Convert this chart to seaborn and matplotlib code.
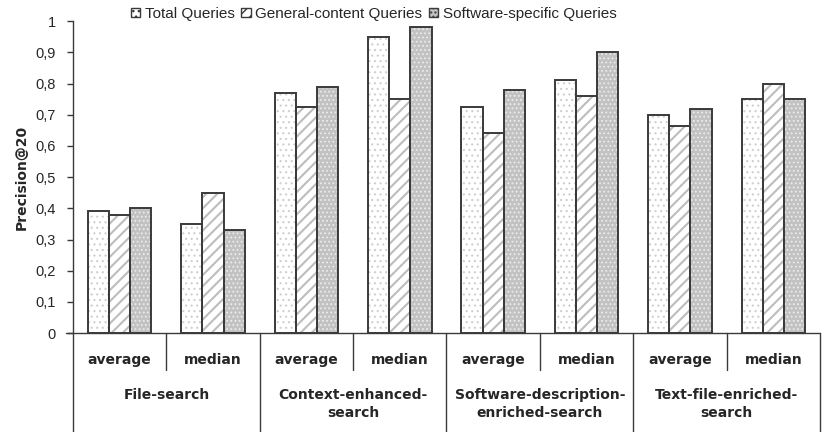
import numpy as np
import pandas as pd
import matplotlib
matplotlib.use("Agg")
import matplotlib.pyplot as plt
from matplotlib.patches import Rectangle, Patch
import seaborn as sns

# --- data ---
groups = ["File-search", "Context-enhanced-\nsearch",
          "Software-description-\nenriched-search", "Text-file-enriched-\nsearch"]
stats = ["average", "median"]
series = ["Total Queries", "General-content Queries", "Software-specific Queries"]
total = [0.39, 0.35, 0.77, 0.95, 0.725, 0.81, 0.70, 0.75]
general = [0.38, 0.45, 0.725, 0.75, 0.64, 0.76, 0.665, 0.80]
software = [0.40, 0.33, 0.79, 0.98, 0.78, 0.90, 0.72, 0.75]
yticks = [0, 0.1, 0.2, 0.3, 0.4, 0.5, 0.6, 0.7, 0.8, 0.9, 1]

sns.set_style("white")
plt.rcParams["font.family"] = ["Liberation Sans", "DejaVu Sans"]
plt.rcParams["hatch.linewidth"] = 1.0

cats = [f"{g}|{s}" for g in groups for s in stats]
rows = []
for name, vals in zip(series, [total, general, software]):
    for c, v in zip(cats, vals):
        rows.append({"cat": c, "series": name, "value": v})
df = pd.DataFrame(rows)

# fill colour, hatch colour, hatch pattern, hatch width per series
styles = [("white", "#cfcfcf", "...", 0.8),
          ("white", "#bdbdbd", "///", 1.5),
          ("#c2c2c2", "#ececec", "....", 0.8)]

fig = plt.figure(figsize=(8.27, 4.32), dpi=100)
ax = fig.add_axes([0.0883, 0.229, 0.9915 - 0.0883, 0.951 - 0.229])

sns.barplot(data=df, x="cat", y="value", hue="series", order=cats,
            hue_order=series, width=0.68, gap=0, legend=False,
            palette=["white"] * 3, ax=ax, linewidth=0)

edge = "#3a3a3a"
for cont, (fc, hc, hatch, hw) in zip(ax.containers, styles):
    for p in cont:
        p.set_facecolor(fc)
        p.set_edgecolor(hc)
        p.set_hatch(hatch)
        if hasattr(p, "set_hatch_linewidth"):
            p.set_hatch_linewidth(hw)
        p.set_linewidth(0)
        ax.add_patch(Rectangle(p.get_xy(), p.get_width(), p.get_height(),
                               fill=False, edgecolor=edge, linewidth=1.4))

ax.set_xlim(-0.5, len(cats) - 0.5)
ax.set_ylim(0, 1)
ax.set_yticks(yticks)
ax.set_yticklabels([f"{t:g}".replace(".", ",") for t in yticks], fontsize=10.5)
ax.tick_params(axis="y", direction="out", length=4.5, width=1, color=edge,
               pad=8, left=True)
ax.set_xticks([])
ax.set_xlabel("")
ax.set_ylabel("Precision@20", fontsize=10, fontweight="bold", labelpad=5,
              family="DejaVu Sans")
for s in ["top", "right", "bottom"]:
    ax.spines[s].set_visible(False)
ax.spines["left"].set_color(edge)
ax.spines["left"].set_linewidth(1)

# multi-level category axis below the plot
kw = dict(color=edge, linewidth=1, clip_on=False)
ax.plot([-0.57, len(cats) - 0.5], [0, 0], **kw)
for b in range(len(groups) + 1):
    ax.plot([2 * b - 0.5] * 2, [0, -0.4], **kw)
for b in range(len(groups)):
    ax.plot([2 * b + 0.5] * 2, [0, -0.119], **kw)
lab = dict(fontsize=10, fontweight="bold", family="DejaVu Sans")
for i, c in enumerate(cats):
    ax.text(i, -0.087, c.split("|")[1], ha="center", va="center", **lab)
for g, name in enumerate(groups):
    ax.text(2 * g + 0.5, -0.177, name, ha="center", va="top",
            linespacing=1.35, **lab)

handles = [Patch(facecolor=fc, edgecolor=edge, hatch=h, linewidth=1)
           for fc, hc, h, hw in styles]
fig.legend(handles, series, loc="center", bbox_to_anchor=(0.452, 0.968),
           ncol=3, frameon=False, fontsize=11, handlelength=0.6,
           handleheight=0.6, handletextpad=0.3, columnspacing=0.45)

fig.savefig("out.png", dpi=100)
